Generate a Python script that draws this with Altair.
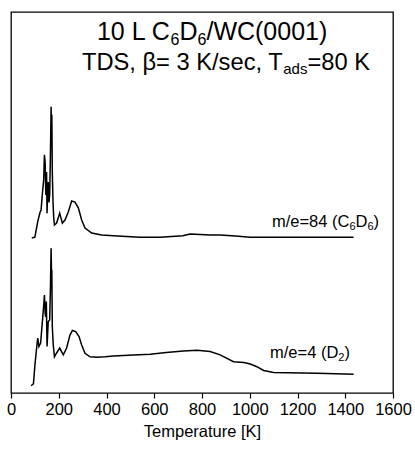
import altair as alt
import pandas as pd

# ---- data (temperature in K, intensity in arb. units) ----
T_C6D6 = [87, 100, 112, 122, 126, 131, 137, 140, 143, 146, 149, 151, 153, 156, 159, 162, 165,
          168, 170, 171, 173, 176, 179, 182, 191, 204, 215, 226, 240, 254, 268, 282, 296, 310,
          338, 380, 429, 540, 625, 720, 750, 835, 876, 940, 1002, 1200, 1435]
I_C6D6 = [40.7, 40.9, 45.0, 47.5, 48.0, 52.0, 56.0, 62.5, 60.5, 52.0, 58.0, 47.2, 52.0, 55.4,
          50.0, 52.0, 62.0, 75.1, 66.0, 73.0, 58.0, 50.0, 46.0, 44.1, 44.6, 47.2, 44.6, 45.4,
          47.5, 50.4, 50.1, 48.6, 45.4, 43.3, 42.0, 41.5, 41.3, 40.9, 40.9, 41.3, 41.7, 41.5,
          41.5, 41.2, 40.9, 40.9, 40.9]

T_D2 = [84, 94, 101, 108, 112, 117, 124, 131, 137, 140, 143, 145, 148, 151, 156, 162, 165,
        168, 170, 171, 173, 177, 182, 191, 204, 219, 233, 247, 257, 271, 285, 296, 310, 331,
        359, 394, 429, 513, 583, 650, 722, 780, 834, 876, 932, 975, 1002, 1030, 1058, 1100,
        1282, 1435]
I_D2 = [1.9, 2.4, 7.9, 12.2, 14.4, 12.2, 13.1, 18.4, 23.1, 25.7, 21.0, 20.0, 24.0, 12.2, 18.7,
        19.2, 27.0, 38.0, 30.0, 32.3, 17.4, 12.6, 9.5, 10.5, 11.8, 10.0, 11.8, 15.2, 16.4, 16.1,
        14.8, 12.6, 10.4, 9.5, 9.4, 9.5, 9.7, 10.0, 10.2, 10.6, 11.0, 11.2, 10.9, 10.0, 8.2,
        8.0, 7.6, 6.9, 5.9, 5.4, 5.2, 4.9]

X_TICKS = [0, 200, 400, 600, 800, 1000, 1200, 1400, 1600]
X_TITLE = "Temperature [K]"

# text pieces: (text, is_subscript)
TITLE1 = [("10 L C", 0), ("6", 1), ("D", 0), ("6", 1), ("/WC(0001)", 0)]
TITLE2 = [("TDS, \u03b2= 3 K/sec, T", 0), ("ads", 1), ("=80 K", 0)]
LAB84 = [("m/e=84 (C", 0), ("6", 1), ("D", 0), ("6", 1), (")", 0)]
LAB4 = [("m/e=4 (D", 0), ("2", 1), (")", 0)]

# ---- layout ----
PLOT_W, PLOT_H = 382, 381
X_MAX, Y_MAX = 1600, 100
PX_T = PLOT_W / X_MAX
PX_U = PLOT_H / Y_MAX
FONT = "Liberation Sans"

ARIAL = {' ': 278, ',': 278, '/': 278, '(': 333, ')': 333, '=': 584, 'C': 722, 'D': 722,
         'K': 667, 'L': 556, 'S': 667, 'T': 611, 'W': 944, 'a': 556, 'c': 500, 'd': 556,
         'e': 556, 'm': 833, 's': 500, '\u03b2': 575, '.': 278}
for d in "0123456789":
    ARIAL[d] = 556


def width(txt, fs):
    return sum(ARIAL.get(c, 556) for c in txt) / 1000.0 * fs


def pieces(segs, x0, y0, fs, fs_sub, shift):
    rows = []
    cur = 0.0
    for txt, sub in segs:
        f = fs_sub if sub else fs
        rows.append({"t": txt, "x": x0 + cur / PX_T,
                     "y": y0 - (shift / PX_U if sub else 0.0), "fs": f})
        cur += width(txt, f)
    return rows


rows = []
rows += pieces(TITLE1, 360, 92.6, 25, 16, 4.5)
rows += pieces(TITLE2, 297, 84.8, 23.7, 15, 4.5)
rows += pieces(LAB84, 1093, 43.6, 16.5, 11, 3.5)
rows += pieces(LAB4, 1085, 9.2, 16.5, 11, 3.5)
txt_df = pd.DataFrame(rows)

df = pd.concat([
    pd.DataFrame({"T": T_C6D6, "I": I_C6D6, "s": "C6D6", "o": range(len(T_C6D6))}),
    pd.DataFrame({"T": T_D2, "I": I_D2, "s": "D2", "o": range(len(T_D2))}),
])

xs = alt.Scale(domain=[0, X_MAX], nice=False, zero=False)
ys = alt.Scale(domain=[0, Y_MAX], nice=False, zero=False)

lines = alt.Chart(df).mark_line(color="black", strokeWidth=1.5).encode(
    x=alt.X("T:Q", scale=xs, title=X_TITLE,
            axis=alt.Axis(values=X_TICKS, grid=False, domain=False, tickColor="black",
                          tickSize=5, tickWidth=1.2, labelPadding=3, labelFont=FONT,
                          labelFontSize=16.5, labelColor="black", labelFlush=False,
                          titleFont=FONT, titleFontSize=16.5, titleFontWeight="normal",
                          titleColor="black", titlePadding=6, format="d")),
    y=alt.Y("I:Q", scale=ys, axis=None),
    detail="s:N",
    order="o:Q",
)

texts = alt.Chart(txt_df).mark_text(align="left", baseline="alphabetic", font=FONT,
                                     color="black").encode(
    x=alt.X("x:Q", scale=xs),
    y=alt.Y("y:Q", scale=ys),
    text="t:N",
    size=alt.Size("fs:Q", scale=None, legend=None),
)

chart = alt.layer(lines, texts).properties(
    width=PLOT_W, height=PLOT_H,
    background="white",
    padding={"left": 11, "top": 12, "right": 22, "bottom": 56},
    autosize=alt.AutoSizeParams(type="none"),
).configure_view(stroke="black", strokeWidth=1.3)

chart.save("out.html", embed_options={"renderer": "svg", "actions": False})
